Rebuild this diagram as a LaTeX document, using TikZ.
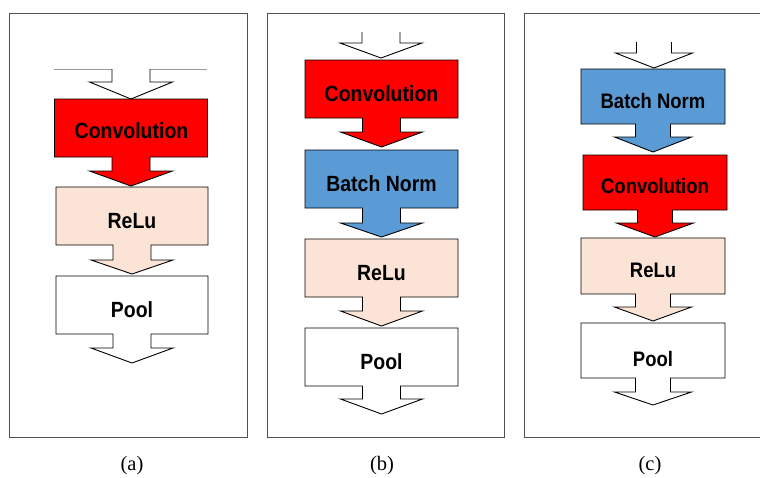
\documentclass[tikz,border=0pt]{standalone}
\usepackage{fontspec}
\setmainfont{Liberation Serif}
\newfontfamily\labelfont{Liberation Sans}
\definecolor{convred}{RGB}{255,0,0}
\definecolor{bnblue}{RGB}{91,155,213}
\definecolor{relupeach}{RGB}{251,228,214}
\definecolor{framegray}{RGB}{80,80,80}
\newcommand\blockshape[9]{% #1 style, #2 cx, #3 half width, #4 ytop, #5 ybottom, #6 shaft half, #7 wing half, #8 shaft len, #9 head len
  \draw[#1] ({#2-#3},#4) -- ({#2+#3},#4) -- ({#2+#3},#5) -- ({#2+#6},#5) -- ({#2+#6},{#5+#8}) -- ({#2+#7},{#5+#8}) -- (#2,{#5+#8+#9}) -- ({#2-#7},{#5+#8}) -- ({#2-#6},{#5+#8}) -- ({#2-#6},#5) -- ({#2-#3},#5) -- cycle;}
\newcommand\toparrow[6]{% #1 cx, #2 ytop, #3 yend, #4 tip, #5 shaft half, #6 wing half
  \draw[blockline,fill=white] ({#1-#5},#2) -- ({#1-#5},#3) -- ({#1-#6},#3) -- (#1,#4) -- ({#1+#6},#3) -- ({#1+#5},#3) -- ({#1+#5},#2);}
\tikzset{
  blockline/.style={draw=black,line width=0.9pt,line join=miter},
  convbox/.style={blockline,fill=convred},
  bnbox/.style={blockline,fill=bnblue},
  relubox/.style={blockline,fill=relupeach},
  poolbox/.style={blockline,fill=white},
  panelframe/.style={draw=framegray,line width=0.9pt},
  blocktext/.style={font=\labelfont\bfseries\fontsize{22}{22}\selectfont,anchor=base,inner sep=0pt,xscale=0.885},
  smalltext/.style={font=\labelfont\bfseries\fontsize{21}{21}\selectfont,anchor=base,inner sep=0pt,xscale=0.88},
  captext/.style={font=\fontsize{20.5}{21}\selectfont,anchor=center,inner sep=0pt}
}
\begin{document}
\begin{tikzpicture}[x=1pt,y=-1pt]
\useasboundingbox (0,0) rectangle (760,477);
% frames
\draw[panelframe] (9,13) rectangle (247,437);
\draw[panelframe] (267,13) rectangle (504,437);
\draw[panelframe] (761,13) -- (524,13) -- (524,437) -- (761,437);
% ---------- panel (a)
\draw[draw=black!40,line width=0.8pt] (54,69) -- (207,69);
\toparrow{131}{69}{82}{99}{19}{41.5}
\blockshape{convbox}{131}{76.5}{99}{157}{19}{41.5}{14}{15}
\blockshape{relubox}{132}{76}{187}{245}{19}{41}{15}{14}
\blockshape{poolbox}{132}{76}{276}{334}{19}{41}{14}{15}
\node[blocktext] (convA) at (131.5,138.5) {Convolution};
\node[blocktext] (reluA) at (132,228) {ReLu};
\node[blocktext] (poolA) at (132,317) {Pool};
\node[captext] (capA) at (132,466) {(a)};
% ---------- panel (b)
\toparrow{381}{32}{43}{58}{19}{41}
\blockshape{convbox}{381.5}{76.5}{60}{118}{19}{41}{14}{15}
\blockshape{bnbox}{381.5}{76.5}{150}{208}{19}{41}{15}{14}
\blockshape{relubox}{381.5}{76.5}{239}{297}{19}{41}{14}{15}
\blockshape{poolbox}{381.5}{76.5}{328}{386}{19}{41}{13}{15}
\node[blocktext] (convB) at (381.5,101) {Convolution};
\node[blocktext] (bnB) at (381.5,191) {Batch Norm};
\node[blocktext] (reluB) at (381.5,280) {ReLu};
\node[blocktext] (poolB) at (381.5,369) {Pool};
\node[captext] (capB) at (382,466) {(b)};
% ---------- panel (c)
\toparrow{654}{42}{53}{68}{17.5}{38.5}
\blockshape{bnbox}{653}{72}{69}{124}{17.5}{38.5}{13}{15}
\blockshape{convbox}{655}{72}{155}{210}{17.5}{38.5}{13}{14}
\blockshape{relubox}{653}{72}{238}{294}{17.5}{38.5}{13}{14}
\blockshape{poolbox}{653}{72}{323}{378}{17.5}{38.5}{14}{13}
\node[smalltext] (bnC) at (653,108) {Batch Norm};
\node[smalltext] (convC) at (655,193) {Convolution};
\node[smalltext] (reluC) at (653,277) {ReLu};
\node[smalltext] (poolC) at (653,366) {Pool};
\node[captext] (capC) at (650,466) {(c)};
\end{tikzpicture}
\end{document}
